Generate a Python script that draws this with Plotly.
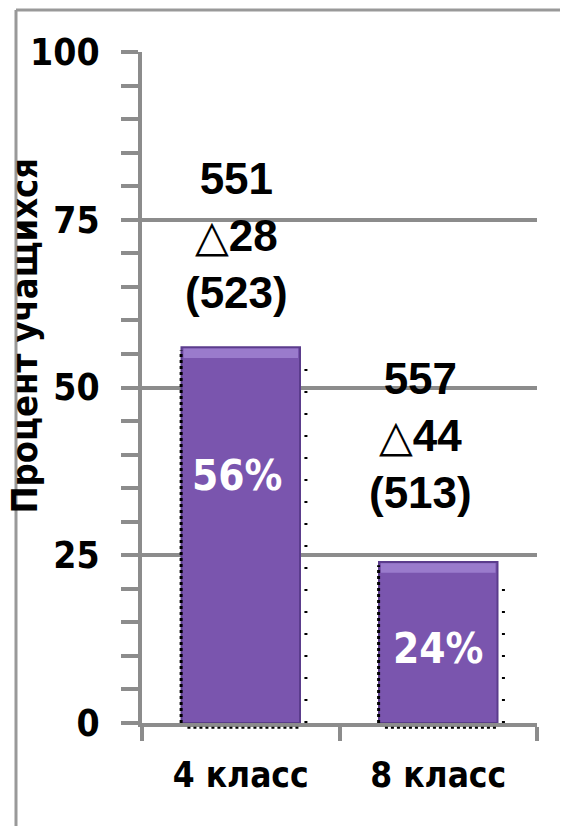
import plotly.graph_objects as go

categories = ["4 класс", "8 класс"]
percent = [56, 24]
scores = [551, 557]
deltas = [28, 44]
previous = [523, 513]
y_ticks = [0, 25, 50, 75, 100]

BOLD = "Liberation Sans, Arial, DejaVu Sans, sans-serif"
NARROW = "DejaVu Sans Condensed, Liberation Sans, sans-serif"
GRAY = "#8c8c8c"
BAR = "#7a55ae"

fig = go.Figure()
fig.add_trace(go.Bar(
    x=categories, y=percent, width=0.6,
    marker=dict(color=BAR, line=dict(color="#5b3c8c", width=2)),
    hoverinfo="skip", showlegend=False,
))

shapes = []
for i, v in enumerate(percent):
    shapes.append(dict(type="rect", xref="x", yref="y",
                       x0=i - 0.29, x1=i + 0.29, y0=v - 1.6, y1=v - 0.2,
                       fillcolor="#9a7bcc", line=dict(width=0), layer="above"))
    shapes.append(dict(type="line", xref="x", yref="y",
                       x0=i - 0.302, x1=i - 0.302, y0=0, y1=v - 0.5,
                       line=dict(color="black", width=3, dash="dot"), layer="above"))
    shapes.append(dict(type="line", xref="x", yref="y",
                       x0=i + 0.33, x1=i + 0.33, y0=0, y1=v - 2,
                       line=dict(color="black", width=3, dash="2px,20px"), layer="above"))
    shapes.append(dict(type="line", xref="x", yref="paper",
                       x0=i - 0.27, x1=i + 0.3, y0=-0.007, y1=-0.007,
                       line=dict(color="black", width=2, dash="dot"), layer="above"))

shapes.append(dict(type="line", xref="paper", yref="paper",
                   x0=-0.319, x1=-0.319, y0=-0.2, y1=1.0626,
                   line=dict(color="#999999", width=3)))
shapes.append(dict(type="line", xref="paper", yref="paper",
                   x0=-0.319, x1=1.2, y0=1.0626, y1=1.0626,
                   line=dict(color="#999999", width=3)))

annotations = []
top_xshift = [-4, -18]
top_yshift = [112, 126]
in_xshift = [-4, 0]
in_yshift = [60, -6]
TRI = '<span style="font-family:\'DejaVu Sans\';font-weight:bold">△</span>'
for i, c in enumerate(categories):
    annotations.append(dict(
        x=c, y=percent[i], xref="x", yref="y",
        text=f"{scores[i]}<br>{TRI}{deltas[i]}<br>({previous[i]})",
        showarrow=False, yanchor="middle", xanchor="center",
        xshift=top_xshift[i], yshift=top_yshift[i],
        font=dict(family=BOLD, size=44, color="black", weight="bold"),
    ))
    annotations.append(dict(
        x=c, y=percent[i] / 2, xref="x", yref="y",
        text=f"{percent[i]}%",
        showarrow=False, yanchor="middle", xanchor="center",
        xshift=in_xshift[i], yshift=in_yshift[i],
        font=dict(family=NARROW, size=42, color="white", weight="bold"),
    ))

annotations.append(dict(
    x=-0.297, y=0.577, xref="paper", yref="paper",
    text="Процент учащихся", textangle=-90, showarrow=False,
    xanchor="center", yanchor="middle",
    font=dict(family=NARROW, size=36, color="black", weight="bold"),
))

fig.update_layout(
    width=568, height=826,
    margin=dict(l=134, r=39, t=44, b=111, autoexpand=False),
    paper_bgcolor="white", plot_bgcolor="white",
    shapes=shapes, annotations=annotations,
    xaxis=dict(
        type="category", range=[-0.5, 1.5], automargin=False,
        showline=True, linecolor=GRAY, linewidth=4,
        ticks="outside", ticklen=14, tickwidth=4, tickcolor=GRAY,
        tickson="boundaries", showgrid=False,
        tickfont=dict(family=NARROW, size=35, color="black", weight="bold"),
        ticklabelstandoff=18,
    ),
    yaxis=dict(
        range=[0, 100], tickvals=y_ticks, automargin=False,
        showline=True, linecolor=GRAY, linewidth=4,
        ticks="outside", ticklen=17, tickwidth=4, tickcolor=GRAY,
        showgrid=True, gridcolor=GRAY, gridwidth=4,
        zeroline=False,
        minor=dict(dtick=5, ticks="outside", ticklen=17, tickwidth=4,
                   tickcolor=GRAY, showgrid=False),
        tickfont=dict(family=NARROW, size=37, color="black", weight="bold"),
        ticklabelstandoff=14,
    ),
)

fig.write_html("out.html")
